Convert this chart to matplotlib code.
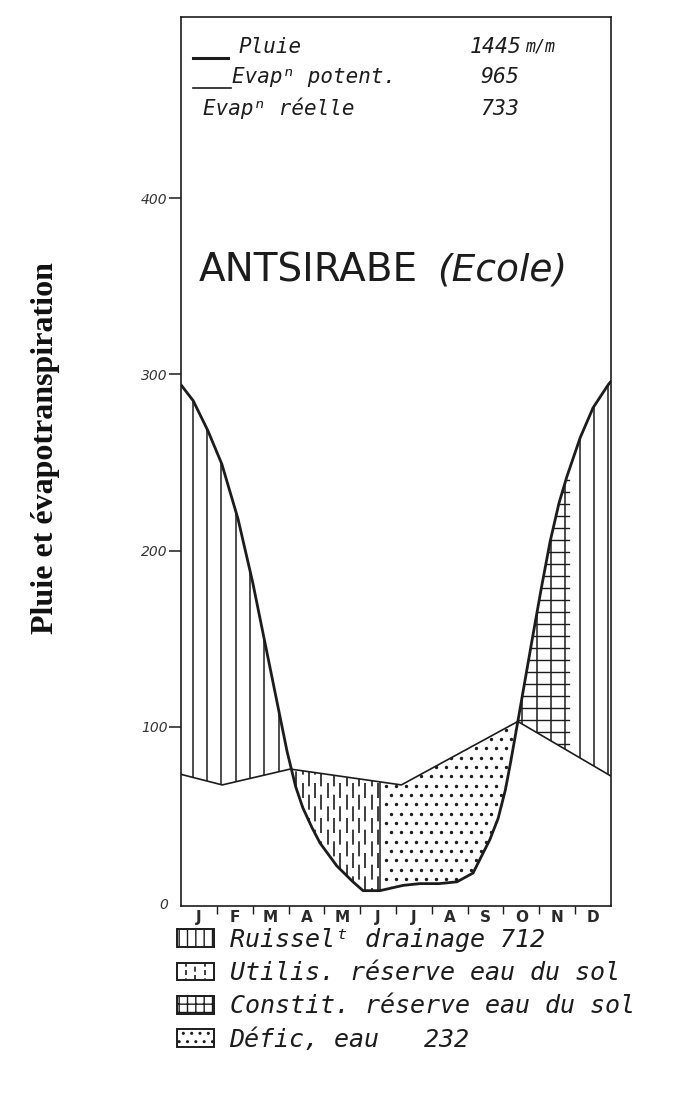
import matplotlib
matplotlib.use("Agg")
import matplotlib.pyplot as plt
import numpy as np
from matplotlib.patches import Patch, Rectangle
from matplotlib.lines import Line2D
from matplotlib.path import Path
from matplotlib.legend_handler import HandlerBase

INK = "#1c1c1c"
LETTERING = ["DejaVu Sans Mono", "DejaVu Sans"]

months = ["J", "F", "M", "A", "M", "J", "J", "A", "S", "O", "N", "D"]

# rain curve (x = months since 1 Jan, values in mm)
rain_x = [0, 0.34, 0.75, 1.14, 1.59, 2.0, 2.48, 2.96, 3.2, 3.4, 3.65, 3.88, 4.35,
          4.8, 5.08, 5.55, 6.2, 6.67, 7.2, 7.7, 8.15, 8.62, 8.85, 9.05, 9.2, 9.4,
          9.77, 10.05, 10.3, 10.55, 10.77, 11.14, 11.5, 11.92, 12]
rain_v = [294, 285, 268, 249, 218, 182, 134, 86, 66, 54, 43, 34, 21,
          12, 7, 7, 10, 11, 11, 12, 17, 36, 48, 64, 80, 103,
          146, 178, 205, 227, 242, 264, 281, 294, 296]

# potential evapotranspiration (straight segments)
pet_x = [0, 1.15, 3.05, 6.15, 9.4, 12]
pet_v = [73, 67, 76, 67, 103, 72]

# where soil reserve use ends / reserve building ends
util_end = 5.55
constit_end = 10.86

totals_labels = ["Pluie", "Evapⁿ potent.", "Evapⁿ réelle"]
totals_values = ["1445", "965", "733"]

legend_labels = ["Ruisselᵗ drainage 712", "Utilis. réserve eau du sol",
                 "Constit. réserve eau du sol", "Défic, eau   232"]

fig = plt.figure(figsize=(6.74, 11.10), dpi=100)
ax = fig.add_axes([181 / 674, 204 / 1110, 430 / 674, 889 / 1110])

xs = np.linspace(0, 12, 2401)
rain_i = np.interp(xs, rain_x, rain_v)
pet_i = np.interp(xs, pet_x, pet_v)
surplus = rain_i >= pet_i


def area(lo, hi, mask):
    coll = ax.fill_between(xs, lo, hi, where=mask, interpolate=True,
                           facecolor="none", linewidth=0)
    return Path.make_compound_path(*coll.get_paths())


surplus_path = area(pet_i, rain_i, surplus)
constit_path = area(pet_i, rain_i, surplus & (xs > 5) & (xs <= constit_end))
util_path = area(rain_i, pet_i, ~surplus & (xs <= util_end))
defic_path = area(rain_i, pet_i, ~surplus & (xs >= util_end))

# runoff + reserve building: vertical lines
vl = ax.vlines(np.arange(0.33, 12, 0.4), 0, 320, colors=INK, linewidth=1.1)
vl.set_clip_path(surplus_path, ax.transData)
# reserve building: horizontal lines on top
hl = ax.hlines(np.arange(70, 260, 6.8), 9, 11, colors=INK, linewidth=1.0)
hl.set_clip_path(constit_path, ax.transData)

# soil reserve use: staggered dashed verticals
for k, off in enumerate([0.0, 0.175]):
    vx = np.arange(3.22 + off, util_end, 0.35)
    dl = ax.vlines(vx, 0, 100, colors=INK, linewidth=1.2,
                   linestyles=[(k * 7, (9, 5))])
    dl.set_clip_path(util_path, ax.transData)

# water deficit: staggered dots
gx, gy = np.meshgrid(np.arange(5.72, 9.4, 0.28), np.arange(3, 105, 5.3))
gx = gx + (np.arange(gx.shape[0])[:, None] % 2) * 0.14
dots = ax.scatter(gx.ravel(), gy.ravel(), s=6, color=INK, linewidths=0)
dots.set_clip_path(defic_path, ax.transData)

ax.vlines(util_end, np.interp(util_end, rain_x, rain_v), np.interp(util_end, pet_x, pet_v),
          colors=INK, linewidth=1.1)

ax.plot(pet_x, pet_v, color=INK, linewidth=1.2, zorder=5)
ax.plot(rain_x, rain_v, color=INK, linewidth=2.0, zorder=6, solid_capstyle="round")

ax.set_xlim(0, 12)
ax.set_ylim(-1.7, 502.7)
for s in ax.spines.values():
    s.set_linewidth(1.2)
    s.set_color(INK)

ax.set_yticks([0, 100, 200, 300, 400])
ax.set_yticklabels(["0", "100", "200", "300", "400"], fontstyle="italic",
                   fontsize=10, color="#333333")
ax.tick_params(axis="y", direction="out", length=8.5, width=1.1, pad=1, color=INK)
ax.yaxis.get_major_ticks()[0].tick1line.set_visible(False)

ax.set_xticks(np.arange(12) + 0.5)
ax.set_xticklabels(months, fontsize=11, fontweight="bold", color="#2a2a2a")
ax.set_xticks(np.arange(1, 12), minor=True)
ax.tick_params(axis="x", which="major", length=0, pad=3)
ax.tick_params(axis="x", which="minor", direction="out", length=6, width=1.0, color=INK)

# totals block inside the frame
rows_y = [0.966, 0.932, 0.897]
label_x = [0.133, 0.119, 0.052]
value_x = [0.672, 0.695, 0.695]
for i, (lab, val) in enumerate(zip(totals_labels, totals_values)):
    ax.text(label_x[i], rows_y[i], lab, transform=ax.transAxes, fontsize=15,
            fontstyle="italic", family=LETTERING, va="center", ha="left", color=INK)
    t = ax.text(value_x[i], rows_y[i], val, transform=ax.transAxes, fontsize=15.5,
                fontstyle="italic", family=LETTERING, va="center", ha="left", color=INK)
    if i == 0:
        ax.annotate("m/m", xy=(1, 1), xycoords=t, xytext=(2, 0), textcoords="offset points",
                    fontsize=12, fontstyle="italic", family=LETTERING,
                    va="top", ha="left", color=INK)
ax.plot([0.028, 0.11], [rows_y[0] - 0.012] * 2, transform=ax.transAxes, color=INK, linewidth=2.2)
ax.plot([0.028, 0.117], [rows_y[1] - 0.012] * 2, transform=ax.transAxes, color=INK, linewidth=1.2)

title = ax.text(0.04, 0.715, "ANTSIRABE", transform=ax.transAxes, fontsize=28,
                va="center", ha="left", color=INK)
ax.annotate("(Ecole)", xy=(1, 0.5), xycoords=title, xytext=(14, 0), textcoords="offset points",
            fontsize=27, fontstyle="italic", va="center", ha="left", color=INK)

fig.text(0.068, 0.596, "Pluie et évapotranspiration", rotation=90, ha="center", va="center",
         fontsize=23, fontweight="bold", family=["Liberation Serif"], color="#111111")


class DashedBox(HandlerBase):
    def create_artists(self, legend, orig_handle, xdescent, ydescent, width, height,
                       fontsize, trans):
        x0, y0 = -xdescent, -ydescent
        arts = [Rectangle((x0, y0), width, height, facecolor="white", edgecolor=INK,
                          linewidth=1.4, transform=trans)]
        for j in range(1, 4):
            xx = x0 + width * j / 4
            arts.append(Line2D([xx, xx], [y0, y0 + height], color=INK, linewidth=1.2,
                               linestyle=(j % 2 * 2, (3, 2)), transform=trans))
        return arts


plt.rcParams["hatch.linewidth"] = 1.0
util_handle = Patch()
handles = [Patch(facecolor="white", edgecolor=INK, hatch="||", linewidth=1.4),
           util_handle,
           Patch(facecolor="white", edgecolor=INK, hatch="++", linewidth=1.4),
           Patch(facecolor="white", edgecolor=INK, hatch="..", linewidth=1.4)]
fig.legend(handles, legend_labels, loc="upper left", bbox_to_anchor=(0.262, 0.164),
           frameon=False, borderpad=0, borderaxespad=0, handlelength=1.5,
           handleheight=0.72, handletextpad=0.62, labelspacing=0.37,
           prop={"style": "italic", "size": 18, "family": LETTERING}, labelcolor=INK,
           handler_map={util_handle: DashedBox()})

fig.savefig("out.png", dpi=100)
